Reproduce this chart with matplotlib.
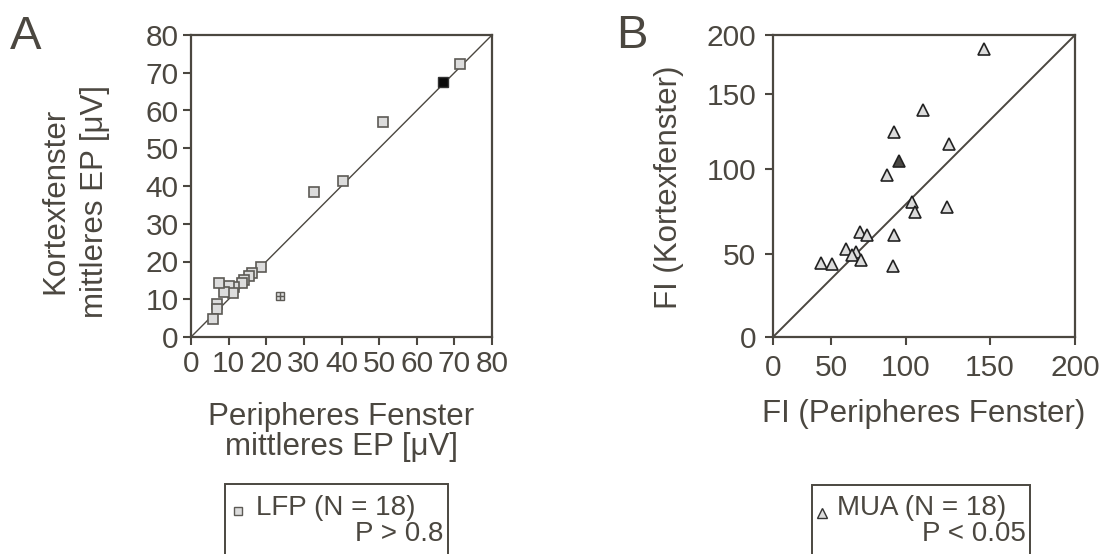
import numpy as np
import matplotlib
matplotlib.use("Agg")
import matplotlib.pyplot as plt
from matplotlib.lines import Line2D
from matplotlib.patches import Rectangle

plt.rcParams["font.family"] = ["Liberation Sans", "DejaVu Sans"]

INK = "#4b4740"
FACE = "#dcdcdc"

# ---- panel A: LFP, mean EP [uV] ----
lfp_periph = [71.4, 50.9, 40.5, 32.7, 18.6, 16.3, 15.5, 14.2, 13.5, 11.5,
              10.1, 11.2, 8.9, 7.4, 7.0, 7.0, 5.9]
lfp_cortex = [72.2, 57.0, 41.3, 38.4, 18.5, 16.9, 16.2, 15.1, 14.4, 13.2,
              13.6, 11.6, 12.0, 14.3, 8.7, 7.4, 4.7]
lfp_black = (67.0, 67.6)
lfp_cross = (23.7, 10.9)
lfp_ticks = [0, 10, 20, 30, 40, 50, 60, 70, 80]

# ---- panel B: MUA, FI ----
mua_periph = [146.4, 110.4, 92.3, 125.8, 87.8, 103.9, 105.7, 124.7, 69.1,
              73.8, 92.3, 59.8, 66.5, 64.0, 70.3, 41.2, 50.8, 91.7]
mua_cortex = [188.3, 139.4, 125.1, 116.7, 96.6, 80.5, 74.6, 77.8, 62.7,
              60.9, 60.9, 52.9, 51.1, 49.1, 46.4, 44.4, 43.5, 42.8]
mua_dark = (95.5, 105.4)
fi_ticks = [0, 50, 100, 150, 200]
# the original axes are not linear: where each tick sits along the axis
fi_xfrac = [0.0, 0.193, 0.439, 0.718, 1.0]
fi_yfrac = [0.0, 0.276, 0.555, 0.804, 1.0]

W, H = 1105, 554
def fx(x): return x / W
def fy(y): return 1 - y / H

fig = plt.figure(figsize=(11.05, 5.54), dpi=100)
fig.patch.set_facecolor("white")

TICK_FS = 21.5
LABEL_FS = 22.5
LEG_FS = 20


def style(ax, pad):
    for s in ax.spines.values():
        s.set_color(INK); s.set_linewidth(1.6)
    ax.tick_params(direction="out", length=6, width=1.5, color=INK,
                   labelcolor=INK, labelsize=TICK_FS, pad=pad)


# ---------------- A ----------------
axA = fig.add_axes([fx(191), fy(337), 301 / W, 302 / H])
axA.plot([0, 80], [0, 80], color=INK, lw=1.0, zorder=1)
axA.plot(lfp_periph, lfp_cortex, "s", ms=7, mfc=FACE, mec="#5c5a55", mew=1.2, zorder=3)
axA.plot(*lfp_black, "s", ms=7, mfc="#0a0a0a", mec="#333333", mew=1.0, zorder=4)
axA.plot(*lfp_cross, "s", ms=6, mfc=FACE, mec="#5c5a55", mew=1.0, zorder=3)
axA.plot(*lfp_cross, "+", ms=6, mec="#5c5a55", mew=1.0, zorder=4)
axA.set_xlim(0, 80); axA.set_ylim(0, 80)
axA.set_xticks(lfp_ticks); axA.set_yticks(lfp_ticks)
style(axA, 3)
axA.text(-0.385, 0.45, "Kortexfenster\nmittleres EP [\u03bcV]", transform=axA.transAxes,
         rotation=90, ha="center", va="center", fontsize=LABEL_FS, color=INK,
         linespacing=1.4, multialignment="center")
axA.text(0.5, -0.315, "Peripheres Fenster\nmittleres EP [\u03bcV]", transform=axA.transAxes,
         ha="center", va="center", fontsize=LABEL_FS, color=INK,
         linespacing=1.0, multialignment="center")

# ---------------- B ----------------
axB = fig.add_axes([fx(773), fy(337), 302 / W, 302 / H])
axB.set_xscale("function", functions=(lambda v: np.interp(v, fi_ticks, fi_xfrac),
                                      lambda f: np.interp(f, fi_xfrac, fi_ticks)))
axB.set_yscale("function", functions=(lambda v: np.interp(v, fi_ticks, fi_yfrac),
                                      lambda f: np.interp(f, fi_yfrac, fi_ticks)))
axB.plot([0, 1], [0, 1], transform=axB.transAxes, color=INK, lw=1.4, zorder=1)
axB.plot(mua_periph, mua_cortex, "^", ms=9, mfc=FACE, mec="#222222", mew=1.2, zorder=3)
axB.plot(*mua_dark, "^", ms=9, mfc="#4a4844", mec="#222222", mew=1.2, zorder=4)
axB.set_xlim(0, 200); axB.set_ylim(0, 200)
axB.set_xticks(fi_ticks); axB.set_yticks(fi_ticks)
axB.xaxis.set_minor_locator(matplotlib.ticker.NullLocator())
axB.yaxis.set_minor_locator(matplotlib.ticker.NullLocator())
axB.set_xticklabels([str(t) for t in fi_ticks]); axB.set_yticklabels([str(t) for t in fi_ticks])
style(axB, 6)
axB.text(-0.345, 0.495, "FI (Kortexfenster)", transform=axB.transAxes,
         rotation=90, ha="center", va="center", fontsize=LABEL_FS, color=INK)
axB.text(0.5, -0.255, "FI (Peripheres Fenster)", transform=axB.transAxes,
         ha="center", va="center", fontsize=LABEL_FS, color=INK)

# panel letters
fig.text(fx(10), fy(49), "A", fontsize=34, color=INK, va="baseline")
fig.text(fx(616), fy(48), "B", fontsize=34, color=INK, va="baseline")

# ---------------- legend boxes ----------------
for x0, x1, y0 in [(225, 448, 484), (812, 1030, 485)]:
    fig.add_artist(Rectangle((fx(x0), fy(570)), (x1 - x0) / W, (570 - y0) / H,
                             transform=fig.transFigure, fill=False, ec=INK, lw=1.4))

fig.add_artist(Line2D([fx(238)], [fy(511)], marker="s", ms=6, mfc=FACE, mec="#5c5a55",
                      mew=1.0, transform=fig.transFigure))
fig.text(fx(256), fy(515), "LFP (N = 18)", fontsize=LEG_FS, color=INK, va="baseline")
fig.text(fx(443), fy(541), "P > 0.8", fontsize=LEG_FS, color=INK, va="baseline", ha="right")

fig.add_artist(Line2D([fx(822)], [fy(513)], marker="^", ms=7, mfc=FACE, mec="#333333",
                      mew=1.0, transform=fig.transFigure))
fig.text(fx(837), fy(515), "MUA (N = 18)", fontsize=LEG_FS, color=INK, va="baseline")
fig.text(fx(1026), fy(541), "P < 0.05", fontsize=LEG_FS, color=INK, va="baseline", ha="right")

fig.savefig("out.png", dpi=100)
